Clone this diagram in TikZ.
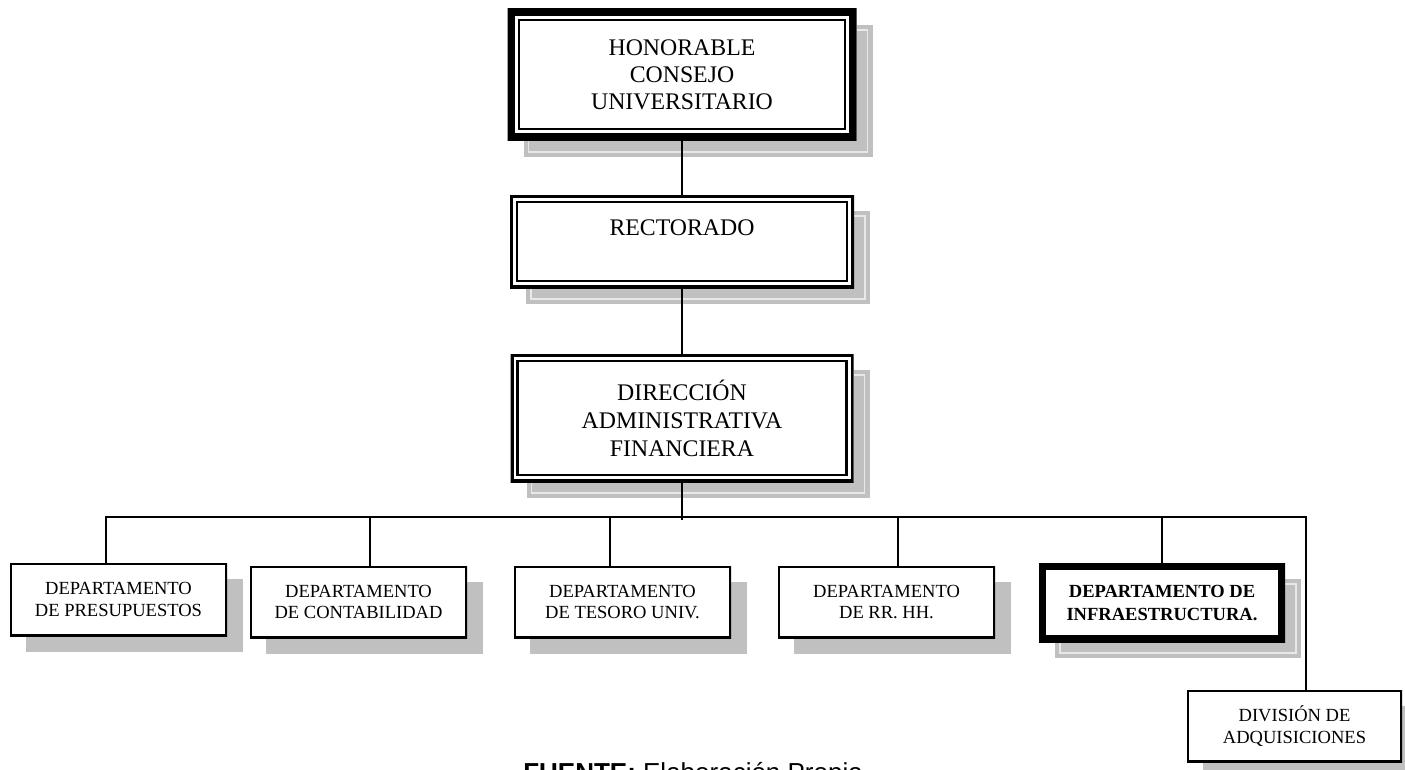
\documentclass[tikz,border=0pt]{standalone}
\usepackage{fontspec}
\setmainfont{Liberation Serif}
\newfontfamily\footfont{Liberation Sans}
\usetikzlibrary{backgrounds}
\definecolor{shadowfill}{HTML}{C0C0C0}
\definecolor{shadowline}{HTML}{E8E8E8}
\newcommand\hdfont{\fontsize{17.85pt}{20.4pt}\selectfont}
\newcommand\smfont{\fontsize{13.9pt}{16.1pt}\selectfont}
\tikzset{
  sz/.style 2 args={minimum width=#1*0.75pt, minimum height=#2*0.75pt},
  unit/.style={fill=white, inner sep=0pt, outer sep=0pt, align=center},
  % single border drawn on the inside of the box
  frame/.style={path picture={
      \draw[line width=#1] (path picture bounding box.south west)
        rectangle (path picture bounding box.north east);}},
  % outer border plus an inner ruled line
  twoframe/.style n args={3}{path picture={
      \draw[line width=#1] (path picture bounding box.south west)
        rectangle (path picture bounding box.north east);
      \draw[line width=#3] ([xshift=#2,yshift=#2]path picture bounding box.south west)
        rectangle ([xshift=-#2,yshift=-#2]path picture bounding box.north east);}},
  topbox/.style={unit, twoframe={11.25pt}{8.625pt}{1.5pt}, font=\hdfont},
  midbox/.style={unit, twoframe={4.5pt}{5.25pt}{1.875pt}, font=\hdfont},
  deptbox/.style={unit, frame=3pt, sz={217}{72}, font=\smfont},
  keybox/.style={unit, frame=10.5pt, font=\smfont\bfseries},
  wire/.style={line width=1.5pt},
}
\begin{document}
\begin{tikzpicture}[x=0.75pt,y=-0.75pt]
\useasboundingbox (0,0) rectangle (1405,770);
\clip (0,0) rectangle (1405,770);

% upper chain of command
\node[topbox, sz={349}{132}] (hon) at (682,75) {HONORABLE\\CONSEJO\\UNIVERSITARIO};
\node[midbox, sz={344}{93}, text height=11.85pt, text depth=20.25pt] (rect) at (682,241.5) {RECTORADO};
\node[midbox, sz={343}{128}, font=\fontsize{17.85pt}{21pt}\selectfont] (dir) at (682,418) {DIRECCIÓN\\ADMINISTRATIVA\\FINANCIERA};

% departments
\node[deptbox, sz={217}{73}] (b1) at (118.5,599.5) {DEPARTAMENTO\\DE PRESUPUESTOS};
\node[deptbox] (b2) at (358.5,602) {DEPARTAMENTO\\DE CONTABILIDAD};
\node[deptbox] (b3) at (622.5,602) {DEPARTAMENTO\\DE TESORO UNIV.};
\node[deptbox] (b4) at (886.5,602) {DEPARTAMENTO\\DE RR. HH.};
\node[keybox, sz={246}{79}, font=\fontsize{13.9pt}{17.25pt}\selectfont\bfseries] (inf) at (1162,602.5) {DEPARTAMENTO DE\\INFRAESTRUCTURA.};
\node[deptbox, sz={215}{72}] (div) at (1294.5,726) {DIVISIÓN DE\\ADQUISICIONES};

% drop shadows
\begin{scope}[on background layer]
  \foreach \n in {hon,rect,dir,b1,b2,b3,b4,inf,div}
    \fill[shadowfill] ([shift={(16,16)}]\n.north west) rectangle ([shift={(16,16)}]\n.south east);
  \foreach \n in {hon,rect,dir,inf}
    \draw[shadowline, line width=0.8pt] ([shift={(21,21)}]\n.north west) rectangle ([shift={(11,11)}]\n.south east);
\end{scope}

% connectors
\coordinate (bl) at (106,517);
\coordinate (br) at (1306,517);
\coordinate (t2) at (370,517);
\coordinate (t3) at (610,517);
\coordinate (t4) at (898,517);
\coordinate (t5) at (1162,517);
\coordinate (trunk) at (682,520);
\draw[wire] (hon.south) -- (rect.north);
\draw[wire] (rect.south) -- (dir.north);
\draw[wire] (dir.south) -- (trunk);
\draw[wire] (bl |- b1.north) -- (bl) -- (br) -- (br |- div.north);
\foreach \t/\b in {t2/b2,t3/b3,t4/b4,t5/inf}
  \draw[wire] (\t) -- (\t |- \b.north);

% source line
\node[anchor=base west, inner sep=0pt] (src) at (523,781)
  {\footfont\fontsize{19.5pt}{22pt}\selectfont\textbf{FUENTE:} Elaboración Propia};
\end{tikzpicture}
\end{document}
